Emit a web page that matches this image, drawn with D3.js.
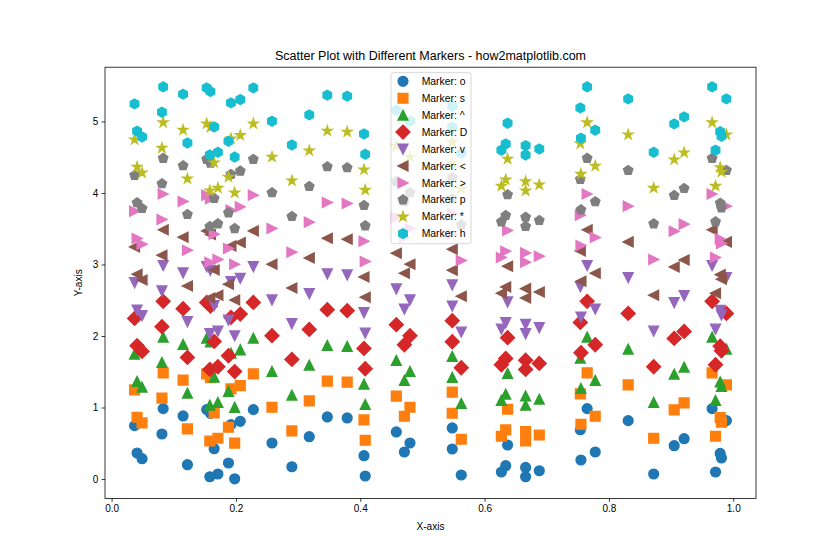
<!DOCTYPE html>
<html>
<head>
<meta charset="utf-8">
<script src="https://cdn.jsdelivr.net/npm/d3@7"></script>
<style>
  body { margin: 0; background: #fff; }
  svg text { font-family: "Liberation Sans", Arial, sans-serif; fill: #000; }
</style>
</head>
<body>
<svg width="840" height="560"></svg>
<script>
// shared x positions and base y values (each marker series is shifted up by its offset)
var xs = [0.037, 0.041, 0.049, 0.083, 0.081, 0.115, 0.122, 0.153, 0.159, 0.165,
          0.158, 0.171, 0.188, 0.192, 0.207, 0.198, 0.228, 0.258, 0.290, 0.318,
          0.347, 0.379, 0.406, 0.408, 0.458, 0.480, 0.471, 0.548, 0.548, 0.5625,
          0.637, 0.634, 0.627, 0.666, 0.666, 0.688, 0.765, 0.754, 0.755, 0.778,
          0.831, 0.872, 0.905, 0.921, 0.966, 0.989, 0.979, 0.981, 0.9715];
var ys = [0.746, 0.364, 0.284, 0.985, 0.630, 0.882, 0.200, 0.970, 0.919, 0.424,
          0.032, 0.070, 0.224, 0.760, 0.807, 0.003, 0.970, 0.504, 0.172, 0.592,
          0.868, 0.854, 0.326, 0.042, 0.658, 0.504, 0.378, 0.714, 0.420, 0.056,
          0.476, 0.186, 0.098, 0.162, 0.032, 0.116, 0.985, 0.690, 0.266, 0.378,
          0.816, 0.070, 0.466, 0.564, 0.985, 0.816, 0.358, 0.294, 0.098];

var markers = ["o", "s", "^", "D", "v", "<", ">", "p", "*", "h"];
var offsets = [0, 0.5, 1.0, 1.5, 2.0, 2.5, 3.0, 3.5, 4.0, 4.5];
var colors = ["#1f77b4", "#ff7f0e", "#2ca02c", "#d62728", "#9467bd",
              "#8c564b", "#e377c2", "#7f7f7f", "#bcbd22", "#17becf"];
var xTicks = [0.0, 0.2, 0.4, 0.6, 0.8, 1.0];
var yTicks = [0, 1, 2, 3, 4, 5];

var axL = 105, axR = 756, axT = 67.2, axB = 498.4;
var pt = 70 / 72;

var svg = d3.select("svg");

// marker shapes, size = area of the unit box in px^2 (like matplotlib's s)
function poly(ctx, pts) {
  ctx.moveTo(pts[0][0], pts[0][1]);
  for (var i = 1; i < pts.length; i++) ctx.lineTo(pts[i][0], pts[i][1]);
  ctx.closePath();
}
function regular(n, r, inner) {
  var pts = [], k = inner ? 2 * n : n;
  for (var i = 0; i < k; i++) {
    var a = -Math.PI / 2 + Math.PI * 2 * i / k;
    var rr = inner && i % 2 ? r * inner : r;
    pts.push([rr * Math.cos(a), rr * Math.sin(a)]);
  }
  return pts;
}
var shapes = {
  "o": { draw: function(c, s) { var h = Math.sqrt(s) / 2; c.moveTo(h, 0); c.arc(0, 0, h, 0, 2 * Math.PI); } },
  "s": { draw: function(c, s) { var h = Math.sqrt(s) / 2; poly(c, [[-h, -h], [h, -h], [h, h], [-h, h]]); } },
  "^": { draw: function(c, s) { var h = Math.sqrt(s) / 2; poly(c, [[0, -h], [-h, h], [h, h]]); } },
  "v": { draw: function(c, s) { var h = Math.sqrt(s) / 2; poly(c, [[0, h], [-h, -h], [h, -h]]); } },
  "<": { draw: function(c, s) { var h = Math.sqrt(s) / 2; poly(c, [[-h, 0], [h, -h], [h, h]]); } },
  ">": { draw: function(c, s) { var h = Math.sqrt(s) / 2; poly(c, [[h, 0], [-h, -h], [-h, h]]); } },
  "D": { draw: function(c, s) { var r = Math.sqrt(s) * Math.SQRT1_2; poly(c, [[0, -r], [r, 0], [0, r], [-r, 0]]); } },
  "p": { draw: function(c, s) { poly(c, regular(5, Math.sqrt(s) / 2)); } },
  "*": { draw: function(c, s) { poly(c, regular(5, Math.sqrt(s) / 2, 0.381966)); } },
  "h": { draw: function(c, s) { poly(c, regular(6, Math.sqrt(s) / 2)); } }
};
var msize = Math.pow(10 * pt, 2);

var series = markers.map(function(m, i) {
  return { marker: m, color: colors[i],
           points: xs.map(function(x, j) { return [x, ys[j] + offsets[i]]; }) };
});

// matplotlib style 5% margins
var xExt = d3.extent(xs);
var allY = [].concat.apply([], series.map(function(s) { return s.points.map(function(p) { return p[1]; }); }));
var yExt = d3.extent(allY);
var xPad = (xExt[1] - xExt[0]) * 0.05, yPad = (yExt[1] - yExt[0]) * 0.05;

var x = d3.scaleLinear().domain([xExt[0] - xPad, xExt[1] + xPad]).range([axL, axR]);
var y = d3.scaleLinear().domain([yExt[0] - yPad, yExt[1] + yPad]).range([axB, axT]);

var g = svg.append("g");
series.forEach(function(s) {
  var sym = d3.symbol().type(shapes[s.marker]).size(msize);
  g.append("g").selectAll("path")
    .data(s.points)
    .enter().append("path")
      .attr("d", sym)
      .attr("transform", function(d) { return "translate(" + x(d[0]) + "," + y(d[1]) + ")"; })
      .attr("fill", s.color)
      .attr("stroke", s.color)
      .attr("stroke-width", 1.5 * pt);
});

// axes
var xAxis = d3.axisBottom(x).tickValues(xTicks).tickFormat(d3.format(".1f")).tickSizeInner(3.5 * pt).tickSizeOuter(0).tickPadding(3.5 * pt);
var yAxis = d3.axisLeft(y).tickValues(yTicks).tickFormat(d3.format("d")).tickSizeInner(3.5 * pt).tickSizeOuter(0).tickPadding(3.5 * pt);

var gx = svg.append("g").attr("transform", "translate(0," + axB + ")").call(xAxis);
var gy = svg.append("g").attr("transform", "translate(" + axL + ",0)").call(yAxis);
[gx, gy].forEach(function(a) {
  a.select(".domain").remove();
  a.selectAll("line").attr("stroke", "#000").attr("stroke-width", 0.8 * pt);
  a.selectAll("text").attr("font-size", "10px").attr("font-family", "Liberation Sans, Arial, sans-serif").attr("fill", "#000");
});

svg.append("rect")
  .attr("x", axL).attr("y", axT)
  .attr("width", axR - axL).attr("height", axB - axT)
  .attr("fill", "none").attr("stroke", "#000").attr("stroke-width", 0.8 * pt);

// labels
svg.append("text").attr("x", (axL + axR) / 2).attr("y", 60)
  .attr("text-anchor", "middle").attr("font-size", "12.5px")
  .text("Scatter Plot with Different Markers - how2matplotlib.com");
svg.append("text").attr("x", (axL + axR) / 2).attr("y", 530)
  .attr("text-anchor", "middle").attr("font-size", "10px")
  .text("X-axis");
svg.append("text").attr("transform", "translate(82," + (axT + axB) / 2 + ") rotate(-90)")
  .attr("text-anchor", "middle").attr("font-size", "10px")
  .text("Y-axis");

// legend
var lg = svg.append("g");
lg.append("rect")
  .attr("x", 391).attr("y", 72.7).attr("width", 80).attr("height", 171).attr("rx", 2.5)
  .attr("fill", "#fff").attr("fill-opacity", 0.8)
  .attr("stroke", "#cccccc").attr("stroke-width", 0.8 * pt);
var rows = lg.selectAll("g.row")
  .data(series)
  .enter().append("g")
    .attr("class", "row")
    .attr("transform", function(d, i) { return "translate(403," + (81.3 + i * 16.93) + ")"; });
rows.append("path")
  .attr("d", function(d) { return d3.symbol().type(shapes[d.marker]).size(msize)(); })
  .attr("fill", function(d) { return d.color; })
  .attr("stroke", function(d) { return d.color; })
  .attr("stroke-width", 1.5 * pt);
rows.append("text")
  .attr("x", 18.7).attr("dy", "0.35em")
  .attr("font-size", "10.4px")
  .text(function(d) { return "Marker: " + d.marker; });
</script>
</body>
</html>
